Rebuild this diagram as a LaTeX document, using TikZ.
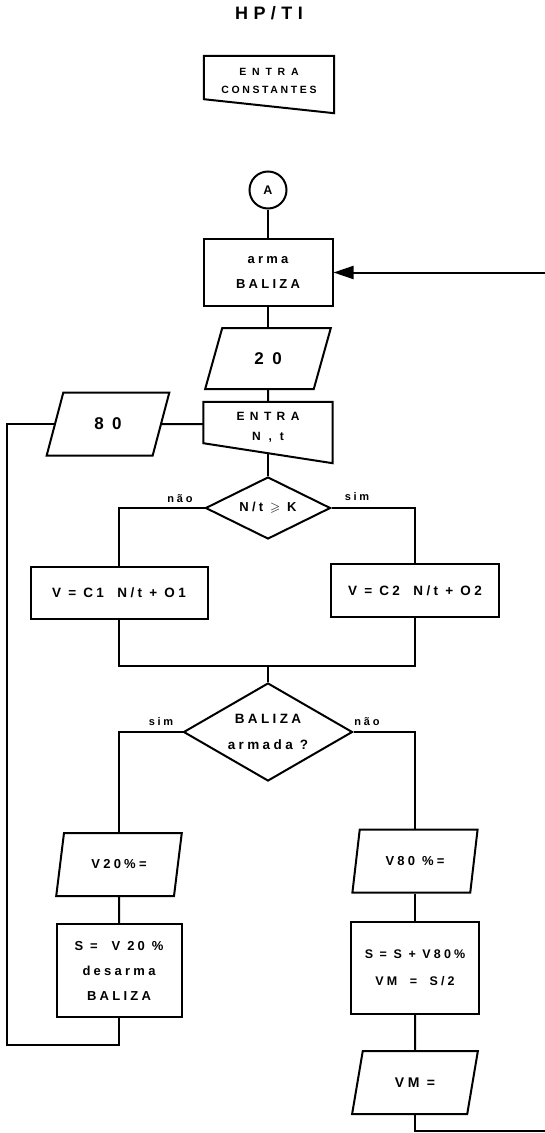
\documentclass[tikz,border=0pt]{standalone}
\usepackage{amssymb}
\usepackage{fontspec}
\setmainfont[LetterSpace=25]{Liberation Sans}
\usetikzlibrary{arrows.meta,shapes.geometric,calc}
\tikzset{
  flowline/.style={
    line width=2pt,
    draw=black
  },
  procbox/.style={
    rectangle,
    draw=black,
    line width=2pt,
    inner sep=2pt,
    align=center,
    font=\bfseries\fontsize{13}{25}\selectfont
  },
  iobox/.style={
    trapezium,
    trapezium left angle=67,
    trapezium right angle=113,
    trapezium stretches=true,
    draw=black,
    line width=2pt,
    minimum width=126pt,
    minimum height=63pt,
    inner sep=0pt,
    font=\bfseries\fontsize{13}{15}\selectfont
  },
  manualin/.style={
    rectangle,
    inner sep=0pt,
    align=center,
    font=\bfseries\fontsize{10.5}{18}\selectfont
  },
  decision/.style={
    diamond,
    aspect=2,
    draw=black,
    line width=2pt,
    inner sep=0pt,
    align=center,
    font=\bfseries\fontsize{13}{25}\selectfont
  },
  connector/.style={
    circle,
    draw=black,
    line width=2pt,
    minimum size=37pt,
    inner sep=0pt,
    font=\bfseries\fontsize{12.5}{14}\selectfont
  },
  branchlabel/.style={
    inner sep=1pt,
    font=\bfseries\fontsize{11}{13}\selectfont
  },
  loopback/.style={
    flowline,
    -{Triangle[length=20pt,width=13pt]}
  }
}

\begin{document}
\begin{tikzpicture}[x=1pt,y=-1pt]
\useasboundingbox[fill=white] (0,0) rectangle (544,1133);
% cabecalho
\node[font=\bfseries\fontsize{18}{20}\selectfont\addfontfeature{LetterSpace=30}] (title) at (269,13) {HP/TI};
\node[manualin, minimum width=130pt, minimum height=50pt] (const) at (269,81) {{\addfontfeature{LetterSpace=55}ENTRA}\\CONSTANTES};
\draw[flowline] (const.north west) -- (const.north east) -- ([yshift=-7pt]const.south east) -- ([yshift=7pt]const.south west) -- cycle;

% laco principal
\node[connector] (ptA) at (268,190) {A};
\node[procbox, minimum width=129pt, minimum height=67pt] (arma) at (268,272.5) {arma\\BALIZA};
\node[iobox, minimum height=61pt, font=\bfseries\fontsize{17}{19}\selectfont\addfontfeature{LetterSpace=50}] (in20) at (268,358.5) {20};
\node[manualin, minimum width=129pt, minimum height=51pt, font=\bfseries\fontsize{12}{20}\selectfont\addfontfeature{LetterSpace=45}] (entra) at (268,427.5) {ENTRA\\N\hspace{8pt},\hspace{8pt}t};
\draw[flowline] (entra.north west) -- (entra.north east) -- ([yshift=-10pt]entra.south east) -- ([yshift=10pt]entra.south west) -- cycle;
\node[iobox, minimum width=123pt, font=\bfseries\fontsize{17}{19}\selectfont\addfontfeature{LetterSpace=50}] (in80) at (108,424) {80};
\node[decision, minimum width=125pt, minimum height=62pt] (teste1) at (268,508) {N/t $\geqslant$ K};
\node[procbox, minimum width=177pt, minimum height=52pt, font=\bfseries\fontsize{13.5}{16}\selectfont] (calc1) at (119,593) {V = C1\quad N/t + O1};
\node[procbox, minimum width=168pt, minimum height=53pt, font=\bfseries\fontsize{13.5}{16}\selectfont] (calc2) at (415,590.5) {V = C2\quad N/t + O2};
\coordinate (junta) at (268,666);
\node[decision, minimum width=169pt, minimum height=98pt, font=\bfseries\fontsize{13.5}{26}\selectfont] (teste2) at (268,732) {BALIZA\\armada ?};

% ramo sim
\node[iobox] (v20) at (119,864.5) {V20\%=};
\node[procbox, minimum width=125pt, minimum height=93pt] (desarma) at (119,970.5) {S =\hspace{14pt}V 20 \%\\desarma\\BALIZA};
% ramo nao
\node[iobox] (v80) at (415,861) {V80 \%=};
\node[procbox, minimum width=128pt, minimum height=92pt, font=\bfseries\fontsize{12.5}{27}\selectfont] (soma) at (415,968) {S = S + V80\%\\VM\quad=\quad S/2};
\node[iobox, font=\bfseries\fontsize{14}{16}\selectfont] (vm) at (415,1082.5) {VM =};
\coordinate (cantoE) at (7,1045);
\coordinate (cantoD) at (548,1131);

% rotulos
\node[branchlabel] (nao1) at (180,499) {não};
\node[branchlabel] (sim1) at (357,497) {sim};
\node[branchlabel] (sim2) at (161,722) {sim};
\node[branchlabel] (nao2) at (367,722) {não};

% ligacoes
\draw[flowline] (ptA) -- (arma);
\draw[flowline] (arma) -- (in20);
\draw[flowline] (in20) -- (entra);
\draw[flowline] (entra.south) -- (teste1);
\draw[flowline] (in80) -- (in80 -| entra.west);
\draw[flowline] (teste1.west) -| (calc1.north);
\draw[flowline] (teste1.east) -| (calc2.north);
\draw[flowline] (calc1.south) |- (junta) -| (calc2.south);
\draw[flowline] (junta) -- (teste2.north);
\draw[flowline] (teste2.west) -| (v20.north);
\draw[flowline] (teste2.east) -| (v80.north);
\draw[flowline] (v20) -- (desarma);
\draw[flowline] (v80) -- (soma);
\draw[flowline] (soma) -- (vm);
\draw[flowline] (desarma.south) |- (cantoE) |- (in80.west);
\draw[loopback] (vm.south) |- (cantoD) |- (arma.east);
\end{tikzpicture}
\end{document}
